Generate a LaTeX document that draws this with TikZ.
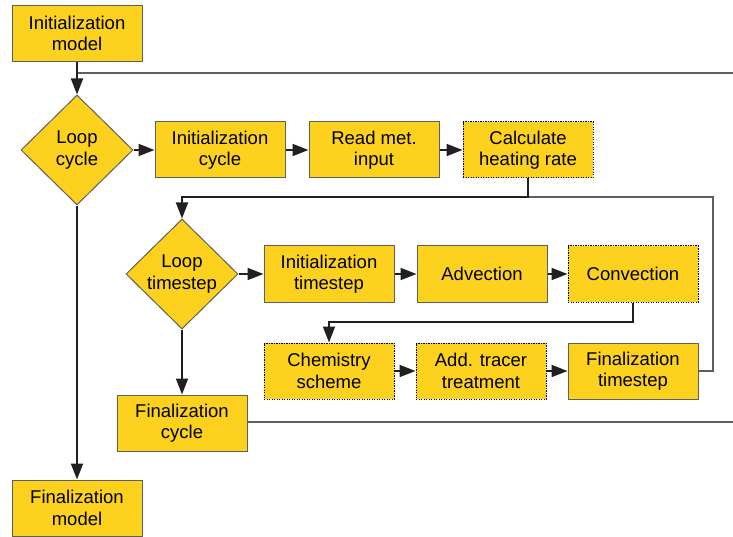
\documentclass[tikz,border=0pt]{standalone}
\usepackage{fontspec}
\setmainfont{Liberation Sans}
\usetikzlibrary{shapes.geometric,arrows.meta}
\definecolor{boxyellow}{RGB}{253,210,30}
\definecolor{edgegray}{RGB}{95,95,95}
\definecolor{flowline}{RGB}{35,31,32}
\tikzset{
	stepbox/.style={draw=edgegray, line width=1pt, fill=boxyellow, minimum width=130pt, minimum height=56pt, inner sep=0pt, align=center, font=\fontsize{18.5}{21.5}\selectfont},
	optbox/.style={stepbox, draw=black, dash pattern=on 1.2pt off 1.3pt},
	loopdiam/.style={diamond, aspect=1, draw=edgegray, line width=1pt, fill=boxyellow, minimum width=112pt, minimum height=110pt, inner sep=0pt, align=center, font=\fontsize{18.5}{21.5}\selectfont},
	flow/.style={draw=flowline, line width=1.8pt, -{Triangle[length=16pt,width=12pt]}},
	link/.style={draw=flowline, line width=1.8pt},
	back/.style={draw=edgegray, line width=1.2pt}
}
\begin{document}
\begin{tikzpicture}[x=1pt,y=-1pt]
				\useasboundingbox (0,0) rectangle (733,537);
				% model level
				\node[stepbox] (imod) at (77,33.5) {Initialization\\model};
				\node[loopdiam] (lcyc) at (77,150) {Loop\\cycle};
				\node[stepbox] (fmod) at (77,508) {Finalization\\model};
				% cycle level
				\node[stepbox] (icyc) at (220,150) {Initialization\\cycle};
				\node[stepbox] (rmet) at (374,150) {Read met.\\input};
				\node[optbox] (heat) at (528,150) {Calculate\\heating rate};
				\node[stepbox] (fcyc) at (182,423) {Finalization\\cycle};
				% timestep level
				\node[loopdiam] (ltim) at (182,274) {Loop\\timestep};
				\node[stepbox] (itim) at (329,274) {Initialization\\timestep};
				\node[stepbox] (adv) at (482,274) {Advection};
				\node[optbox] (conv) at (633,274) {Convection};
				\node[optbox] (chem) at (329,371) {Chemistry\\scheme};
				\node[optbox] (trac) at (481,371) {Add. tracer\\treatment};
				\node[stepbox] (ftim) at (633,371) {Finalization\\timestep};
				% junction points
				\coordinate (rtop) at (733,73);
				\coordinate (rbot) at (733,422);
				\coordinate (tjoin) at (713,197);
				\coordinate (cjoin) at (0,322);
				% connectors
				\draw[back] (imod.south |- rtop) -- (rtop);
				\draw[flow] (imod) -- (lcyc);
				\draw[flow] (lcyc) -- (icyc);
				\draw[flow] (icyc) -- (rmet);
				\draw[flow] (rmet) -- (heat);
				\draw[back] (ftim.east) -| (tjoin) -- (heat.south |- tjoin);
				\draw[flow] (heat.south) |- (ltim.north |- tjoin) -- (ltim.north);
				\draw[flow] (ltim) -- (itim);
				\draw[flow] (itim) -- (adv);
				\draw[flow] (adv) -- (conv);
				\draw[flow] (conv.south) |- (chem.north |- cjoin) -- (chem.north);
				\draw[flow] (chem) -- (trac);
				\draw[flow] (trac) -- (ftim);
				\draw[flow] (ltim) -- (fcyc);
				\draw[back] (fcyc.east |- rbot) -- (rbot);
				\draw[flow] (lcyc) -- (fmod);
			\end{tikzpicture}
\end{document}
